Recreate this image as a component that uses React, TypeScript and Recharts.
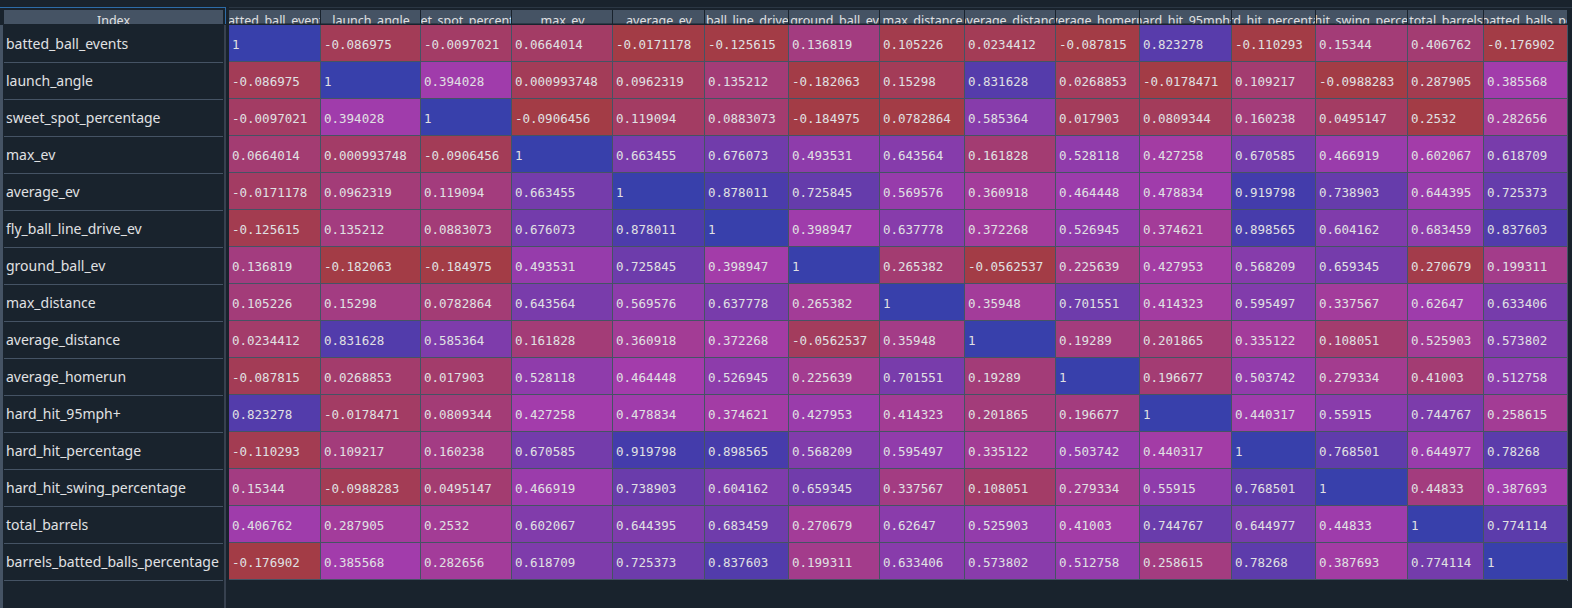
import React from 'react';
import { BarChart, Bar, XAxis, YAxis } from 'recharts';

const fields = [
  'batted_ball_events',
  'launch_angle',
  'sweet_spot_percentage',
  'max_ev',
  'average_ev',
  'fly_ball_line_drive_ev',
  'ground_ball_ev',
  'max_distance',
  'average_distance',
  'average_homerun',
  'hard_hit_95mph+',
  'hard_hit_percentage',
  'hard_hit_swing_percentage',
  'total_barrels',
  'barrels_batted_balls_percentage',
];

const batted_ball_events = [1, -0.086975, -0.0097021, 0.0664014, -0.0171178, -0.125615, 0.136819, 0.105226, 0.0234412, -0.087815, 0.823278, -0.110293, 0.15344, 0.406762, -0.176902];
const launch_angle = [-0.086975, 1, 0.394028, 0.000993748, 0.0962319, 0.135212, -0.182063, 0.15298, 0.831628, 0.0268853, -0.0178471, 0.109217, -0.0988283, 0.287905, 0.385568];
const sweet_spot_percentage = [-0.0097021, 0.394028, 1, -0.0906456, 0.119094, 0.0883073, -0.184975, 0.0782864, 0.585364, 0.017903, 0.0809344, 0.160238, 0.0495147, 0.2532, 0.282656];
const max_ev = [0.0664014, 0.000993748, -0.0906456, 1, 0.663455, 0.676073, 0.493531, 0.643564, 0.161828, 0.528118, 0.427258, 0.670585, 0.466919, 0.602067, 0.618709];
const average_ev = [-0.0171178, 0.0962319, 0.119094, 0.663455, 1, 0.878011, 0.725845, 0.569576, 0.360918, 0.464448, 0.478834, 0.919798, 0.738903, 0.644395, 0.725373];
const fly_ball_line_drive_ev = [-0.125615, 0.135212, 0.0883073, 0.676073, 0.878011, 1, 0.398947, 0.637778, 0.372268, 0.526945, 0.374621, 0.898565, 0.604162, 0.683459, 0.837603];
const ground_ball_ev = [0.136819, -0.182063, -0.184975, 0.493531, 0.725845, 0.398947, 1, 0.265382, -0.0562537, 0.225639, 0.427953, 0.568209, 0.659345, 0.270679, 0.199311];
const max_distance = [0.105226, 0.15298, 0.0782864, 0.643564, 0.569576, 0.637778, 0.265382, 1, 0.35948, 0.701551, 0.414323, 0.595497, 0.337567, 0.62647, 0.633406];
const average_distance = [0.0234412, 0.831628, 0.585364, 0.161828, 0.360918, 0.372268, -0.0562537, 0.35948, 1, 0.19289, 0.201865, 0.335122, 0.108051, 0.525903, 0.573802];
const average_homerun = [-0.087815, 0.0268853, 0.017903, 0.528118, 0.464448, 0.526945, 0.225639, 0.701551, 0.19289, 1, 0.196677, 0.503742, 0.279334, 0.41003, 0.512758];
const hard_hit_95mph = [0.823278, -0.0178471, 0.0809344, 0.427258, 0.478834, 0.374621, 0.427953, 0.414323, 0.201865, 0.196677, 1, 0.440317, 0.55915, 0.744767, 0.258615];
const hard_hit_percentage = [-0.110293, 0.109217, 0.160238, 0.670585, 0.919798, 0.898565, 0.568209, 0.595497, 0.335122, 0.503742, 0.440317, 1, 0.768501, 0.644977, 0.78268];
const hard_hit_swing_percentage = [0.15344, -0.0988283, 0.0495147, 0.466919, 0.738903, 0.604162, 0.659345, 0.337567, 0.108051, 0.279334, 0.55915, 0.768501, 1, 0.44833, 0.387693];
const total_barrels = [0.406762, 0.287905, 0.2532, 0.602067, 0.644395, 0.683459, 0.270679, 0.62647, 0.525903, 0.41003, 0.744767, 0.644977, 0.44833, 1, 0.774114];
const barrels_batted_balls_percentage = [-0.176902, 0.385568, 0.282656, 0.618709, 0.725373, 0.837603, 0.199311, 0.633406, 0.573802, 0.512758, 0.258615, 0.78268, 0.387693, 0.774114, 1];

const corrRows = [
  batted_ball_events, launch_angle, sweet_spot_percentage, max_ev, average_ev,
  fly_ball_line_drive_ev, ground_ball_ev, max_distance, average_distance, average_homerun,
  hard_hit_95mph, hard_hit_percentage, hard_hit_swing_percentage, total_barrels,
  barrels_batted_balls_percentage,
];

// column widths in px, the last one runs past the window edge
const colWidths = [92, 100, 91, 101, 92, 84, 91, 85, 91, 84, 92, 84, 92, 76, 92];

const BG = '#19232D';
const GRID = '#455364';
const TEXT = '#E0E1E3';
const ACCENT = '#2d6ca8';
const SANS = '"Noto Sans", sans-serif';
const MONO = '"DejaVu Sans Mono", monospace';

const colStarts = colWidths.map((_, i) => colWidths.slice(0, i).reduce((a, b) => a + b, 0));
const colCenters = colStarts.map((s, i) => s + colWidths[i] / 2);
const totalWidth = colWidths.reduce((a, b) => a + b, 0);

const colMin = fields.map((_, j) => Math.min(...corrRows.map(r => r[j])));
const colMax = fields.map((_, j) => Math.max(...corrRows.map(r => r[j])));

// column-wise gradient: hue 0.66 at max .. 0.99 at min, sat 0.7, val 1, alpha 0.6 over bg
const hsv = (h: number, s: number, v: number) => {
  const i = Math.floor(h * 6);
  const f = h * 6 - i;
  const p = v * (1 - s);
  const q = v * (1 - f * s);
  const t = v * (1 - (1 - f) * s);
  switch (i % 6) {
    case 0: return [v, t, p];
    case 1: return [q, v, p];
    case 2: return [p, v, t];
    case 3: return [p, q, v];
    case 4: return [t, p, v];
    default: return [v, p, q];
  }
};

const cellColor = (v: number, j: number) => {
  const h = 0.66 + (0.33 * (colMax[j] - v)) / (colMax[j] - colMin[j]);
  const rgb = hsv(h, 0.7, 1);
  const bg = [25, 35, 45];
  const c = rgb.map((x, k) => Math.round(0.6 * x * 255 + 0.4 * bg[k]));
  return `rgb(${c[0]},${c[1]},${c[2]})`;
};

const data = fields.map((name, i) => {
  const row: any = { name };
  colWidths.forEach((w, j) => {
    row[`w${j}`] = w;
    row[`v${j}`] = corrRows[i][j];
  });
  return row;
});

const makeCell = (j: number) => (props: any) => {
  const { x, y, width, height, payload } = props;
  const v = payload[`v${j}`];
  return (
    <g>
      <rect x={x} y={y} width={width} height={height} fill={GRID} />
      <rect x={x} y={y} width={width - 1} height={height - 1} fill={cellColor(v, j)} />
      <text x={x + 3} y={y + height / 2 + 5} fill={TEXT} fontSize={12.5} fontFamily={MONO}>
        {String(v)}
      </text>
    </g>
  );
};

const HeaderTick = (props: any) => {
  const { x, payload } = props;
  const i = colCenters.indexOf(payload.value);
  if (i < 0) return null;
  const w = colWidths[i];
  const left = x - w / 2;
  return (
    <g>
      <defs>
        <clipPath id={`hclip${i}`}>
          <rect x={left} y={10} width={w - 1} height={13.5} />
        </clipPath>
      </defs>
      <rect x={left} y={10} width={w - 1} height={13.5} fill={GRID} />
      <text x={x} y={24.5} textAnchor="middle" fill={TEXT} fontSize={12.5} fontFamily={SANS} clipPath={`url(#hclip${i})`}>
        {fields[i]}
      </text>
    </g>
  );
};

const IndexTick = (props: any) => {
  const { y, payload } = props;
  return (
    <g>
      <text x={6} y={y + 5.5} fill={TEXT} fontSize={14} fontFamily={SANS}>
        {payload.value}
      </text>
      <rect x={4} y={Math.floor(y + 18.5)} width={219} height={1} fill={GRID} />
    </g>
  );
};

export default function App() {
  return (
    <div style={{ position: 'fixed', left: 0, top: 0, width: 1572, height: 608, background: BG, overflow: 'hidden' }}>
      {/* top frame line */}
      <div style={{ position: 'absolute', left: 229, top: 7, width: 1343, height: 1, background: '#2b3744' }} />
      <div style={{ position: 'absolute', left: 0, top: 7, width: 226, height: 1, background: ACCENT }} />
      <div style={{ position: 'absolute', left: 225, top: 7, width: 1, height: 17, background: ACCENT }} />
      {/* index header */}
      <div
        style={{
          position: 'absolute', left: 4, top: 9.5, width: 219, height: 14, background: GRID, overflow: 'hidden',
          color: TEXT, fontFamily: SANS, fontSize: 12.5, textAlign: 'center', lineHeight: '21px',
        }}
      >
        Index
      </div>
      <div style={{ position: 'absolute', left: 0, top: 25, width: 3, height: 583, background: GRID }} />
      <div style={{ position: 'absolute', left: 224, top: 25, width: 2, height: 583, background: '#37414F' }} />
      <div style={{ position: 'absolute', left: 0, top: 0, width: 1567, height: 608, overflow: 'hidden' }}>
        <BarChart
          width={1580}
          height={608}
          data={data}
          layout="vertical"
          margin={{ top: 0, right: 4, bottom: 28, left: 0 }}
          barCategoryGap={0}
          barGap={0}
        >
          <XAxis
            type="number"
            orientation="top"
            domain={[0, totalWidth]}
            ticks={colCenters}
            interval={0}
            height={25}
            tick={(p: any) => <HeaderTick {...p} />}
            tickLine={false}
            axisLine={false}
          />
          <YAxis
            type="category"
            dataKey="name"
            width={229}
            interval={0}
            tick={(p: any) => <IndexTick {...p} />}
            tickLine={false}
            axisLine={false}
          />
          {colWidths.map((_, j) => (
            <Bar key={j} dataKey={`w${j}`} stackId="row" isAnimationActive={false} shape={makeCell(j)} />
          ))}
        </BarChart>
      </div>
      <div style={{ position: 'absolute', left: 1567, top: 25, width: 1, height: 556, background: GRID }} />
    </div>
  );
}
